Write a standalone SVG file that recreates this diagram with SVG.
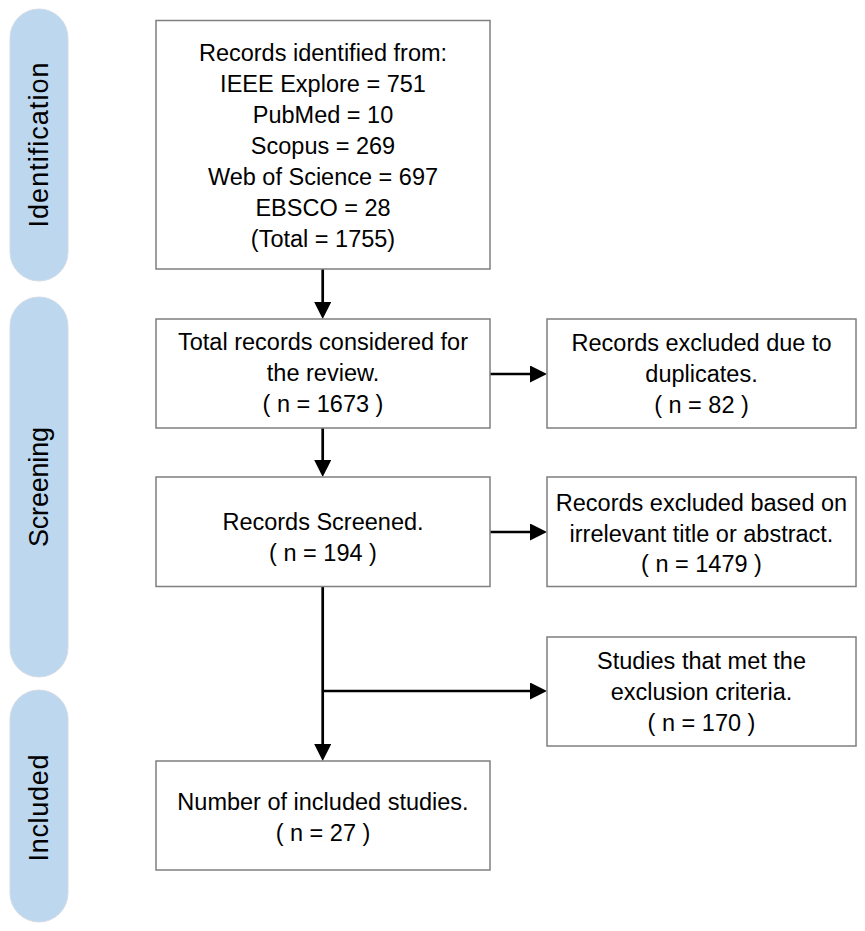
<svg xmlns="http://www.w3.org/2000/svg" width="865" height="931" viewBox="0 0 865 931">
  <style>
    .pill { fill: #BDD7EE; stroke: #D3DCE6; stroke-width: 1; }
    .box { fill: #FFFFFF; stroke: #7F7F7F; stroke-width: 1.5; }
    .t { font-family: "Liberation Sans", Arial, sans-serif; font-size: 23.5px; fill: #000000; text-anchor: middle; }
    .pt { font-family: "Liberation Sans", Arial, sans-serif; font-size: 27px; fill: #000000; text-anchor: middle; }
    .c { fill: none; stroke: #000000; stroke-width: 2.7; }
  </style>
  <defs>
    <marker id="ah" markerUnits="userSpaceOnUse" markerWidth="18" markerHeight="18" refX="9" refY="8.5" orient="auto">
      <path d="M0,0 L17,8.5 L0,17 Z" fill="#000000"/>
    </marker>
  </defs>
  <rect width="865" height="931" fill="#FFFFFF"/>

  <g id="phase-identification">
    <rect class="pill" x="10" y="9" width="58" height="272" rx="29" ry="29"/>
    <text class="pt" transform="translate(47.5,145) rotate(-90)" textLength="165" lengthAdjust="spacing">Identification</text>
  </g>
  <g id="phase-screening">
    <rect class="pill" x="10" y="297" width="58" height="380" rx="29" ry="29"/>
    <text class="pt" transform="translate(47.5,487) rotate(-90)" textLength="120" lengthAdjust="spacing">Screening</text>
  </g>
  <g id="phase-included">
    <rect class="pill" x="10" y="690" width="58" height="232" rx="29" ry="29"/>
    <text class="pt" transform="translate(47.5,808) rotate(-90)" textLength="107" lengthAdjust="spacing">Included</text>
  </g>

  <g id="connectors">
    <path class="c" d="M322.7,269 L322.7,311" marker-end="url(#ah)"/>
    <path class="c" d="M322.7,428 L322.7,469" marker-end="url(#ah)"/>
    <path class="c" d="M322.7,587 L322.7,753" marker-end="url(#ah)"/>
    <path class="c" d="M322.7,691 L539,691" marker-end="url(#ah)"/>
    <path class="c" d="M490,374 L539,374" marker-end="url(#ah)"/>
    <path class="c" d="M490,532 L539,532" marker-end="url(#ah)"/>
  </g>

  <g id="records-identified">
    <rect class="box" x="156" y="20.5" width="334" height="248.5"/>
    <text class="t" x="323" y="61">Records identified from:</text>
    <text class="t" x="323" y="92">IEEE Explore = 751</text>
    <text class="t" x="323" y="123">PubMed = 10</text>
    <text class="t" x="323" y="154">Scopus = 269</text>
    <text class="t" x="323" y="185">Web of Science = 697</text>
    <text class="t" x="323" y="216">EBSCO = 28</text>
    <text class="t" x="323" y="247">(Total = 1755)</text>
  </g>

  <g id="records-considered">
    <rect class="box" x="156" y="319" width="334" height="109"/>
    <text class="t" x="323" y="350">Total records considered for</text>
    <text class="t" x="323" y="381">the review.</text>
    <text class="t" x="323" y="412">( n = 1673 )</text>
  </g>

  <g id="excluded-duplicates">
    <rect class="box" x="547" y="319" width="309" height="109"/>
    <text class="t" x="701.5" y="351">Records excluded due to</text>
    <text class="t" x="701.5" y="382">duplicates.</text>
    <text class="t" x="701.5" y="413">( n = 82 )</text>
  </g>

  <g id="records-screened">
    <rect class="box" x="156" y="477" width="334" height="109.5"/>
    <text class="t" x="323" y="530">Records Screened.</text>
    <text class="t" x="323" y="561">( n = 194 )</text>
  </g>

  <g id="excluded-irrelevant">
    <rect class="box" x="547" y="477" width="309" height="109.5"/>
    <text class="t" x="701.5" y="511">Records excluded based on</text>
    <text class="t" x="701.5" y="542">irrelevant title or abstract.</text>
    <text class="t" x="701.5" y="572">( n = 1479 )</text>
  </g>

  <g id="excluded-criteria">
    <rect class="box" x="547" y="637" width="309" height="109"/>
    <text class="t" x="701.5" y="669">Studies that met the</text>
    <text class="t" x="701.5" y="700">exclusion criteria.</text>
    <text class="t" x="701.5" y="731">( n = 170 )</text>
  </g>

  <g id="included-studies">
    <rect class="box" x="156" y="761" width="334" height="109"/>
    <text class="t" x="323" y="810">Number of included studies.</text>
    <text class="t" x="323" y="841">( n = 27 )</text>
  </g>
</svg>
